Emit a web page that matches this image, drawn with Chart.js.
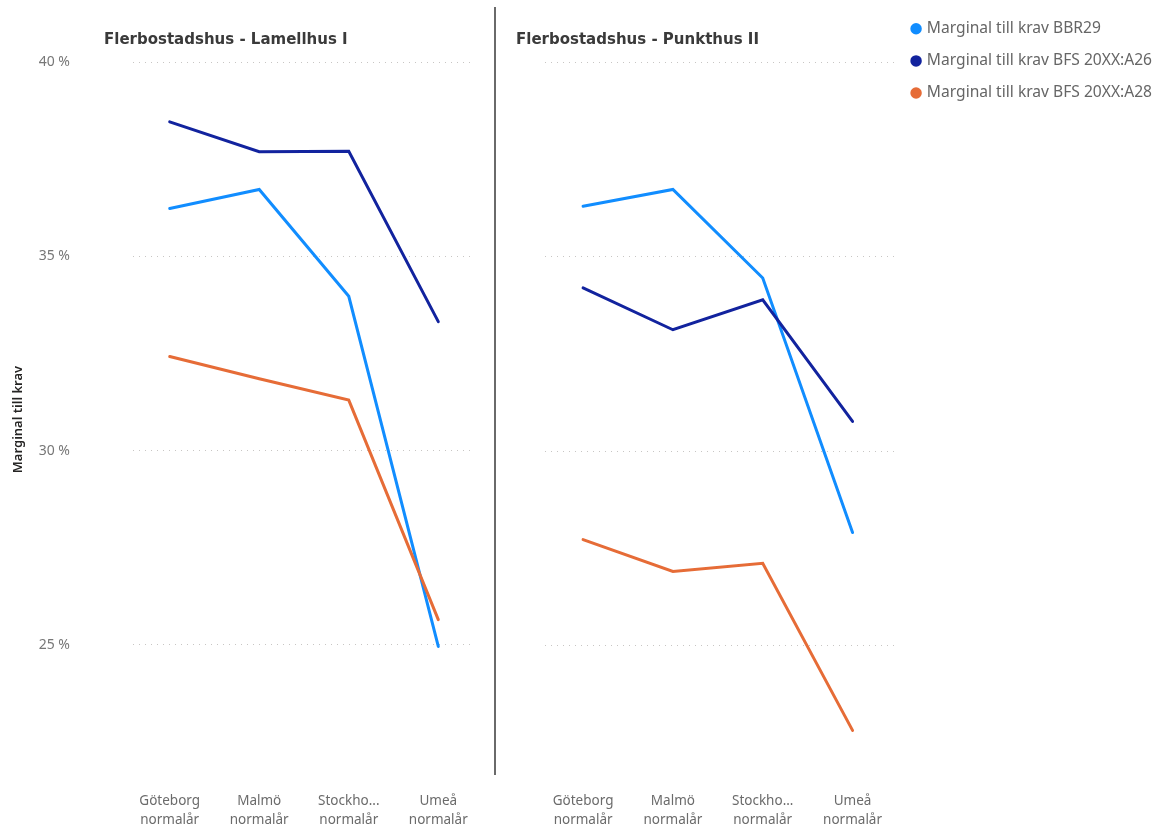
<!DOCTYPE html>
<html>
<head>
<meta charset="utf-8">
<script src="https://cdn.jsdelivr.net/npm/chart.js@4.4.1/dist/chart.umd.min.js"></script>
<style>
  html, body { margin: 0; padding: 0; background: #ffffff; }
  #wrap { position: relative; width: 1155px; height: 828px; overflow: hidden; background: #ffffff; }
  canvas { position: absolute; top: 0; }
  #panelLeft { left: 0; }
  #panelRight { left: 495px; }
  #divider { position: absolute; left: 494px; top: 7px; width: 2px; height: 768px; background: #6a6a6a; }
</style>
</head>
<body>
<div id="wrap">
  <canvas id="panelLeft" width="490" height="837"></canvas>
  <div id="divider"></div>
  <canvas id="panelRight" width="670" height="837"></canvas>
</div>
<script>
// Categories (climate locations) and how their tick labels are shown
const categories = ['Göteborg normalår', 'Malmö normalår', 'Stockholm normalår', 'Umeå normalår'];
const categoryTickLabels = [
  ['Göteborg', 'normalår'],
  ['Malmö', 'normalår'],
  ['Stockho...', 'normalår'],
  ['Umeå', 'normalår']
];

// Series
const seriesNames = [
  'Marginal till krav BBR29',
  'Marginal till krav BFS 20XX:A26',
  'Marginal till krav BFS 20XX:A28'
];
const seriesColors = ['#118DFF', '#12239E', '#E66C37'];

// Panel titles
const panelTitles = ['Flerbostadshus - Lamellhus I', 'Flerbostadshus - Punkthus II'];

// Margin to requirement (%) – Lamellhus I
const lamellBBR29 = [36.23, 36.72, 33.97, 24.96];
const lamellA26   = [38.46, 37.69, 37.70, 33.32];
const lamellA28   = [32.42, 31.85, 31.30, 25.65];

// Margin to requirement (%) – Punkthus II
const punktBBR29 = [36.29, 36.72, 34.44, 27.89];
const punktA26   = [34.19, 33.11, 33.88, 30.75];
const punktA28   = [27.71, 26.89, 27.10, 22.80];

// Value axis
const yTickValues = [25, 30, 35, 40];
const yAxisTitle = 'Marginal till krav';

const UI_FONT = "'Noto Sans', 'Open Sans', sans-serif";
const TITLE_FONT = "'DejaVu Sans', sans-serif";
const GRID_COLOR = '#c8c6c4';
const GRID_DASH = [1, 5];

// Shift the panel title so it starts a little left of the plot area
const titleShift = {
  id: 'titleShift',
  afterLayout(chart) {
    const t = chart.titleBlock;
    if (t) { t.left -= 29; t.right -= 29; }
  }
};

// Dotted value gridlines for a panel whose value axis is hidden
const valueGrid = {
  id: 'valueGrid',
  beforeDatasetsDraw(chart) {
    if (chart.options.scales.y.display !== false) return;
    const { ctx, chartArea, scales: { y } } = chart;
    ctx.save();
    ctx.strokeStyle = GRID_COLOR;
    ctx.lineWidth = 1;
    ctx.setLineDash(GRID_DASH);
    yTickValues.forEach((v) => {
      const py = Math.round(y.getPixelForValue(v)) + 0.5;
      ctx.beginPath();
      ctx.moveTo(chartArea.left, py);
      ctx.lineTo(chartArea.right, py);
      ctx.stroke();
    });
    ctx.restore();
  }
};

function buildPanel(canvasId, title, seriesValues, isFirst) {
  const datasets = seriesNames.map((name, s) => ({
    label: name,
    data: seriesValues[s].map((v, i) => ({ x: i, y: v })),
    borderColor: seriesColors[s],
    backgroundColor: seriesColors[s],
    borderWidth: 3,
    pointRadius: 0,
    pointHoverRadius: 0,
    tension: 0,
    borderCapStyle: 'round',
    borderJoinStyle: 'miter',
    order: seriesNames.length - s
  }));

  return new Chart(document.getElementById(canvasId), {
    type: 'line',
    data: { datasets },
    options: {
      responsive: false,
      animation: false,
      devicePixelRatio: 1,
      layout: {
        padding: isFirst
          ? { top: 2.5, left: 0, right: 15, bottom: 0 }
          : { top: 4.5, left: 50, right: 3, bottom: 0 }
      },
      plugins: {
        tooltip: { enabled: false },
        title: {
          display: true,
          text: title,
          align: 'start',
          fullSize: false,
          color: '#3a3a3a',
          font: { family: TITLE_FONT, size: 15, weight: 'bold', lineHeight: 1.2 },
          padding: isFirst ? { top: 28.5, bottom: 13 } : { top: 26.5, bottom: 13 }
        },
        legend: {
          display: !isFirst,
          position: 'right',
          align: 'start',
          labels: {
            usePointStyle: true,
            pointStyle: 'circle',
            boxWidth: 6,
            boxHeight: 6,
            padding: 16.5,
            color: '#666666',
            font: { family: UI_FONT, size: 15.6 },
            sort: (a, b) => a.datasetIndex - b.datasetIndex
          }
        }
      },
      scales: {
        x: {
          type: 'linear',
          min: isFirst ? -0.41 : -0.424,
          max: isFirst ? 3.41 : 3.49,
          afterBuildTicks: (scale) => {
            scale.ticks = categories.map((c, i) => ({ value: i }));
          },
          ticks: {
            autoSkip: false,
            maxRotation: 0,
            padding: 7,
            color: '#6b6b6b',
            font: { family: UI_FONT, size: 13.5, lineHeight: 19 / 13.5 },
            callback: (v) => categoryTickLabels[v]
          },
          grid: { display: false },
          border: { display: false }
        },
        y: {
          display: isFirst,
          min: 21.6,
          max: 40,
          afterBuildTicks: (scale) => {
            scale.ticks = yTickValues.map((v) => ({ value: v }));
          },
          afterFit: (scale) => {
            scale.width = isFirst ? 133 : 0;
            scale.paddingTop = 0;
            scale.paddingBottom = 0;
          },
          ticks: {
            padding: 63,
            color: '#777777',
            font: { family: UI_FONT, size: 14 },
            callback: (v) => v + ' %'
          },
          grid: { color: GRID_COLOR, lineWidth: 1, drawTicks: false },
          border: { display: false, dash: GRID_DASH },
          title: {
            display: true,
            text: yAxisTitle,
            color: '#252423',
            font: { family: UI_FONT, size: 13, weight: '600' },
            padding: { top: 10, bottom: 0 }
          }
        }
      }
    },
    plugins: [titleShift, valueGrid]
  });
}

buildPanel('panelLeft', panelTitles[0], [lamellBBR29, lamellA26, lamellA28], true);
buildPanel('panelRight', panelTitles[1], [punktBBR29, punktA26, punktA28], false);
</script>
</body>
</html>
